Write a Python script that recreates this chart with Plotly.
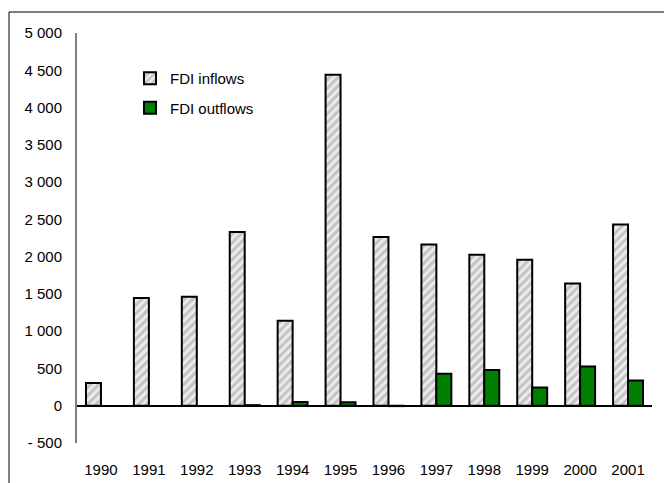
import plotly.graph_objects as go

# FDI flows, millions (None = no outflow reported)
years = ["1990", "1991", "1992", "1993", "1994", "1995",
         "1996", "1997", "1998", "1999", "2000", "2001"]
fdi_inflows = [305, 1445, 1462, 2330, 1140, 4440, 2263, 2164, 2025, 1958, 1641, 2432]
fdi_outflows = [None, None, None, 8, 50, 45, -5, 430, 479, 245, 527, 340]

y_tickvals = [-500, 0, 500, 1000, 1500, 2000, 2500, 3000, 3500, 4000, 4500, 5000]
y_ticktext = ["- 500", "0", "500", "1 000", "1 500", "2 000", "2 500",
              "3 000", "3 500", "4 000", "4 500", "5 000"]

W, H = 664, 483
ML, MR, MT, MB = 77, 12, 33, 40
pw, ph = W - ML - MR, H - MT - MB


def px_x(p):
    return (p - ML) / pw


def px_y(p):
    return (H - MB - p) / ph


fig = go.Figure()
fig.add_trace(go.Bar(
    x=years, y=fdi_inflows, name="FDI inflows", legendgroup="in",
    marker=dict(
        color="#e6e6e6",
        line=dict(color="black", width=2),
        pattern=dict(shape="/", fgcolor="#999999", bgcolor="#ececec",
                     size=6, solidity=0.5),
    ),
))
fig.add_trace(go.Bar(
    x=years, y=fdi_outflows, name="FDI outflows", legendgroup="out",
    marker=dict(color="#008000", line=dict(color="black", width=2)),
))

# outer frame (top and left edges fall inside the page)
frame = dict(type="line", xref="paper", yref="paper",
             line=dict(color="black", width=1), layer="below")
fig.add_shape(**frame, x0=px_x(9), x1=px_x(W + 5), y0=px_y(12), y1=px_y(12))
fig.add_shape(**frame, x0=px_x(9), x1=px_x(9), y0=px_y(12), y1=px_y(H + 5))

fig.update_layout(
    width=W, height=H,
    margin=dict(l=ML, r=MR, t=MT, b=MB, pad=0, autoexpand=False),
    paper_bgcolor="white", plot_bgcolor="white",
    font=dict(family="Liberation Sans, Arial, sans-serif", size=15, color="black"),
    barmode="group", bargap=0.375, bargroupgap=0,
    showlegend=True,
    legend=dict(x=px_x(130), y=px_y(62), xanchor="left", yanchor="top",
                bgcolor="rgba(0,0,0,0)", font=dict(size=15),
                traceorder="grouped", itemwidth=30, tracegroupgap=7),
    xaxis=dict(showgrid=False, showline=False, ticks="", ticklabelstandoff=16,
               automargin=False, tickfont=dict(size=15)),
    yaxis=dict(range=[-500, 5000], tickvals=y_tickvals, ticktext=y_ticktext,
               showgrid=False, showline=True, linecolor="#808080", linewidth=2,
               zeroline=True, zerolinecolor="black", zerolinewidth=1.5,
               automargin=False,
               ticks="", ticklabelstandoff=10, tickfont=dict(size=15)),
)

fig.write_html("out.html")
